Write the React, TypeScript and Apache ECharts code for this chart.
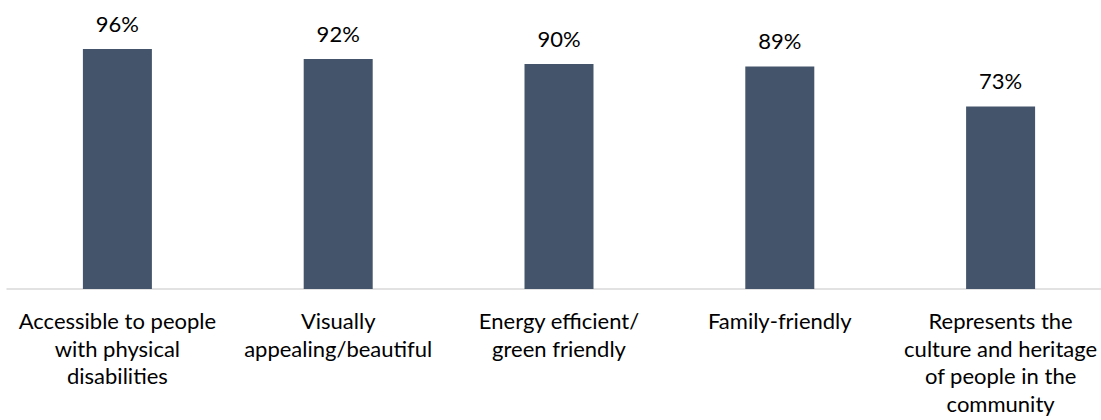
import React, { useEffect, useRef } from "react";
import * as echarts from "echarts";

const categories: string[] = [
  "Accessible to people\nwith physical\ndisabilities",
  "Visually\nappealing/beautiful",
  "Energy efficient/\ngreen friendly",
  "Family-friendly",
  "Represents the\nculture and heritage\nof people in the\ncommunity",
];
const values: number[] = [96, 92, 90, 89, 73];

const FONT = "Lato, 'Open Sans', sans-serif";

export default function App() {
  const ref = useRef<HTMLDivElement>(null);
  useEffect(() => {
    if (!ref.current) return;
    const chart = echarts.init(ref.current, undefined, { renderer: "svg" });
    chart.setOption({
      animation: false,
      grid: {
        left: 7,
        width: 1104,
        top: 39,
        bottom: 131,
        containLabel: false,
        outerBoundsMode: "none",
      },
      xAxis: {
        type: "category",
        data: categories,
        axisLine: { show: true, lineStyle: { color: "#d9d9d9", width: 1.5 } },
        axisTick: { show: false },
        axisLabel: {
          interval: 0,
          margin: 18,
          color: "#000",
          fontFamily: FONT,
          fontSize: 22,
          lineHeight: 27.5,
          align: "center",
        },
      },
      yAxis: {
        type: "value",
        min: 0,
        max: 100,
        show: false,
        splitLine: { show: false },
      },
      series: [
        {
          type: "bar",
          data: values,
          barWidth: 69,
          itemStyle: { color: "#44546A" },
          label: {
            show: true,
            position: "top",
            distance: 14,
            formatter: "{c}%",
            color: "#000",
            fontFamily: FONT,
            fontSize: 22,
            lineHeight: 24,
          },
        },
      ],
    });
    return () => chart.dispose();
  }, []);
  return (
    <div
      ref={ref}
      style={{ position: "fixed", left: 0, top: 0, width: 1101, height: 420, background: "#fff" }}
    />
  );
}
